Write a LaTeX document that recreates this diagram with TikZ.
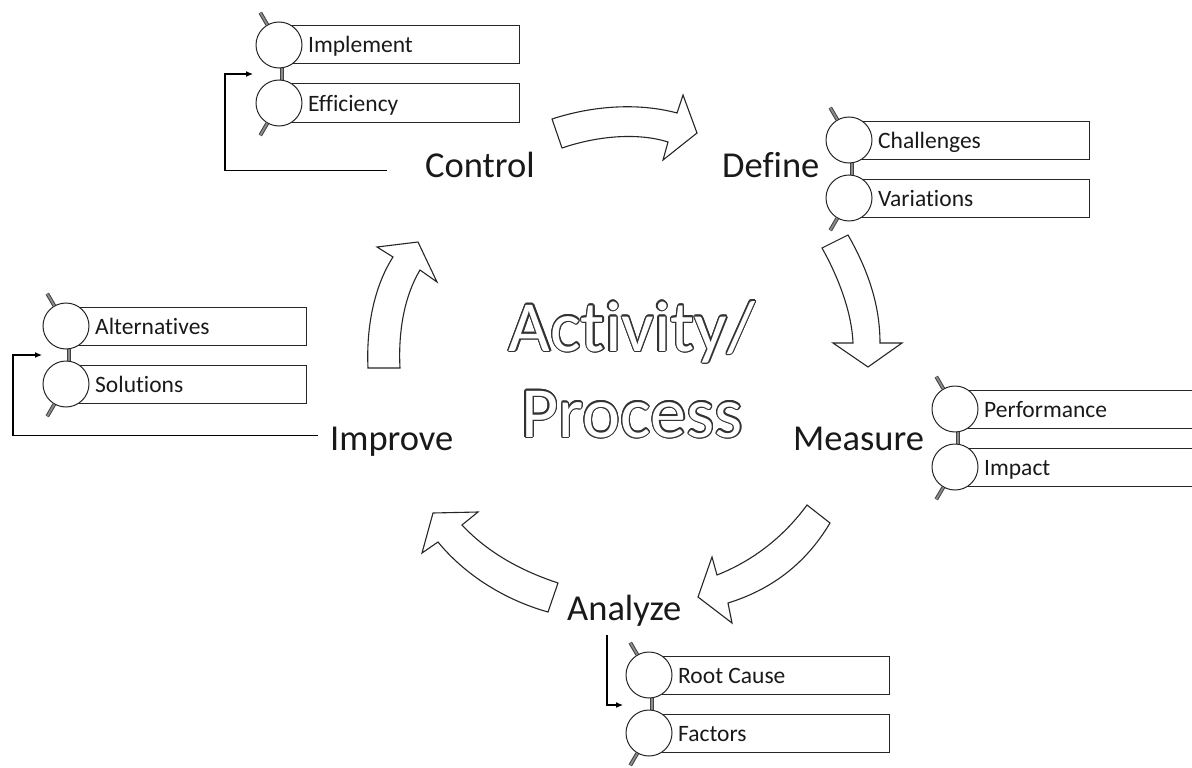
\documentclass[tikz,border=0pt]{standalone}
\usepackage{fontspec}
\setmainfont[Ligatures=NoCommon]{Carlito}
\usepackage[copies]{contour}
\contourlength{1.3pt}
\usetikzlibrary{arrows.meta}
\newcommand\stepgroup[5]{%
  \draw[stub] (#2+3,#3+20) -- (#2+3,#3+38);
  \node[itembox] (#1-r1) at (#2+120,#3) {};
  \node[itembox] (#1-r2) at (#2+120,#3+58) {};
  \node[bead] (#1-c1) at (#2,#3) {};
  \node[bead] (#1-c2) at (#2,#3+58) {};
  \draw[stub] (#1-c1.120) -- ++(-7,-12);
  \draw[stub] (#1-c2.240) -- ++(-7,12);
  \node[itemtext] (#1-t1) at (#2+29,#3+8) {#4};
  \node[itemtext] (#1-t2) at (#2+29,#3+66) {#5};
}
\begin{document}
\begin{tikzpicture}[x=1pt,y=-1pt,
  itembox/.style={draw=black!85, line width=1pt, minimum width=240pt, minimum height=38pt, inner sep=0pt},
  bead/.style={circle, draw=black!85, fill=white, line width=1pt, minimum size=46pt, inner sep=0pt},
  stub/.style={draw=black!75, double=black!45, double distance=1.8pt, line width=1pt},
  itemtext/.style={anchor=base west, inner sep=0pt, font=\fontsize{23.5}{27}\selectfont, text=black!90},
  steplabel/.style={anchor=base west, inner sep=0pt, font=\fontsize{36.5}{42}\selectfont, text=black!90},
  bigtext/.style={anchor=base, inner sep=0pt, font=\fontsize{72}{86}\selectfont},
  blockarrow/.style={draw=black!85, fill=white, line width=1.1pt, line join=miter},
  bracket/.style={draw=black, line width=1.1pt, -{Latex[length=7pt,width=6pt]}}]
\useasboundingbox (0,0) rectangle (1192,768);

% groups
\stepgroup{ctl}{279}{45}{Implement}{Efficiency}
\stepgroup{def}{849}{140}{Challenges}{Variations}
\stepgroup{imp}{66}{326}{Alternatives}{Solutions}
\stepgroup{mea}{955}{409}{Performance}{Impact}
\stepgroup{ana}{649}{675}{Root Cause}{Factors}

% labels
\node[steplabel] (ctl) at (425,177) {Control};
\node[steplabel] (def) at (722,177) {Define};
\node[steplabel] (mea) at (793,450) {Measure};
\node[steplabel] (ana) at (567,620) {Analyze};
\node[steplabel] (imp) at (330,450) {Improve};

% center text
\node[bigtext] (act) at (632,351) {\contour{black!80}{\textcolor{white}{Activity/}}};
\node[bigtext] (pro) at (632,437) {\contour{black!80}{\textcolor{white}{Process}}};

% brackets
\coordinate (ctl-in) at (253,74);
\coordinate (imp-in) at (42,355);
\coordinate (ana-in) at (623,705);
\draw[bracket] ([xshift=-38pt,yshift=-6pt]ctl.west) -- ++(-162,0) |- (ctl-in);
\draw[bracket] ([xshift=-12pt,yshift=6pt]imp.west) -- ++(-305,0) |- (imp-in);
\draw[bracket] ([xshift=40pt,yshift=-9pt]ana.south west) |- (ana-in);

% block arrows
\draw[blockarrow] (552,119) .. controls (595,105) and (640,103) .. (677,113)
  -- (683,95) -- (697,133) -- (663,160) -- (668,142)
  .. controls (640,133) and (600,135) .. (562,148) -- cycle;
\draw[blockarrow] (848,235) .. controls (868,270) and (880,305) .. (880,343)
  -- (902,343) -- (868,367) -- (833,343) -- (853,343)
  .. controls (852,315) and (840,280) .. (822,248) -- cycle;
\draw[blockarrow] (830,523) .. controls (805,565) and (770,590) .. (728,603)
  -- (732,623) -- (698,597) -- (712,557) -- (717,575)
  .. controls (755,560) and (785,535) .. (807,505) -- cycle;
\draw[blockarrow] (548,612) .. controls (505,600) and (465,575) .. (438,542)
  -- (422,553) -- (433,513) -- (478,512) -- (462,525)
  .. controls (490,555) and (525,572) .. (558,583) -- cycle;
\draw[blockarrow] (368,368) .. controls (366,325) and (375,285) .. (393,257)
  -- (377,247) -- (418,242) -- (437,282) -- (420,270)
  .. controls (405,295) and (398,330) .. (400,368) -- cycle;
\end{tikzpicture}
\end{document}
